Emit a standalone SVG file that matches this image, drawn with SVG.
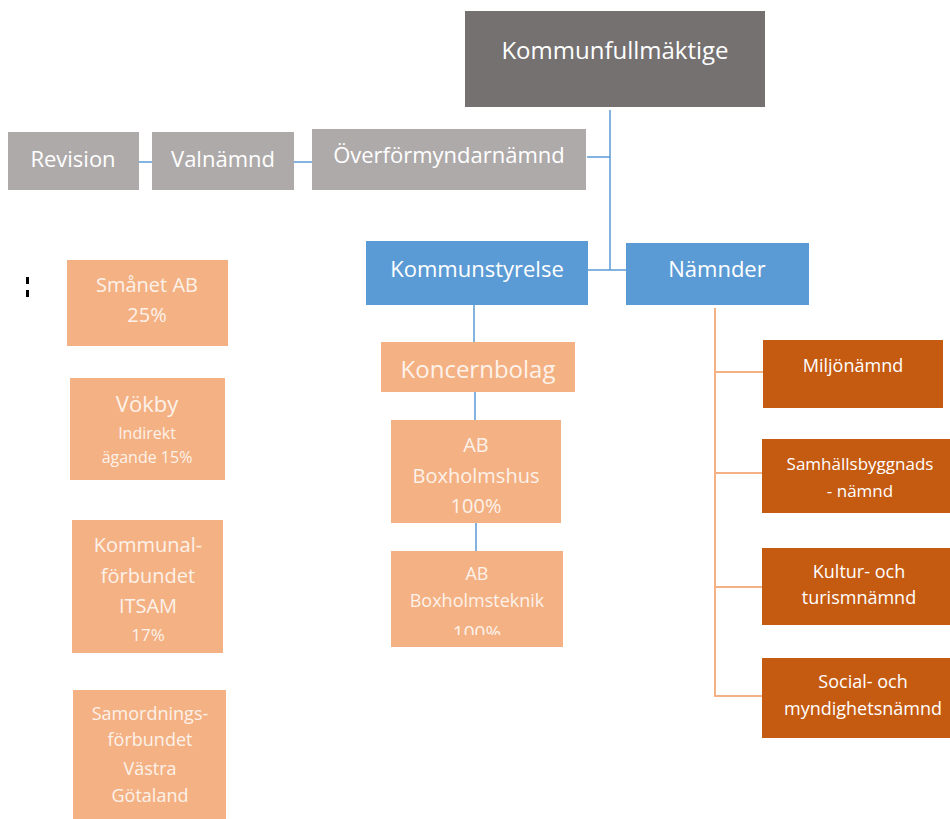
<svg xmlns="http://www.w3.org/2000/svg" width="950" height="819" viewBox="0 0 950 819">
<style>
text{font-family:"Open Sans","Liberation Sans",sans-serif;fill:#ffffff;text-anchor:middle}
.dg{fill:#757171}
.lg{fill:#aeaaaa}
.bl{fill:#5b9bd5}
.po{fill:#f4b183}
.do{fill:#c55a11}
.cb{stroke:#5b9bd5;stroke-width:1.5;fill:none}
.co{stroke:#f4b183;stroke-width:2;fill:none}
.ot{fill:#fdf2ea}
</style>
<defs>
<clipPath id="clipTek"><rect x="391" y="551" width="172" height="84"/></clipPath>
</defs>
<rect width="950" height="819" fill="#ffffff"/>
<g id="connectors">
<path class="cb" d="M610 110V270M587 157H610M588 270H626M139 162H152M294 162H312M474 305V342M475 392V420M476 523V551"/>
<path class="co" d="M715 308V697M715 372H763M715 473H762M715 587H762M715 696H762"/>
</g>
<g id="kommunfullmaktige"><rect class="dg" x="465" y="11" width="300" height="96"/><text x="615" y="59" font-size="24">Kommunfullmäktige</text></g>
<g id="revision"><rect class="lg" x="8" y="132" width="131" height="58"/><text x="73" y="167" font-size="22">Revision</text></g>
<g id="valnamnd"><rect class="lg" x="152" y="132" width="142" height="58"/><text x="223" y="167" font-size="22">Valnämnd</text></g>
<g id="overformyndarnamnd"><rect class="lg" x="312" y="129" width="274" height="61"/><text x="449" y="163" font-size="22">Överförmyndarnämnd</text></g>
<g id="kommunstyrelse"><rect class="bl" x="366" y="241" width="222" height="64"/><text x="477" y="277" font-size="22">Kommunstyrelse</text></g>
<g id="namnder"><rect class="bl" x="626" y="243" width="183" height="62"/><text x="717" y="277" font-size="22">Nämnder</text></g>
<g id="mark"><rect x="26" y="277" width="3" height="7" fill="#000"/><rect x="26" y="290" width="3" height="7" fill="#000"/></g>
<g id="smanet"><rect class="po" x="67" y="260" width="161" height="86"/><text class="ot" x="147" y="292" font-size="20">Smånet AB</text><text class="ot" x="147" y="322" font-size="20">25%</text></g>
<g id="vokby"><rect class="po" x="70" y="378" width="155" height="102"/><text class="ot" x="147" y="412" font-size="22">Vökby</text><text class="ot" x="147" y="439" font-size="16">Indirekt</text><text class="ot" x="147" y="463" font-size="16">ägande 15%</text></g>
<g id="itsam"><rect class="po" x="72" y="520" width="151" height="133"/><text class="ot" x="148" y="552" font-size="20">Kommunal-</text><text class="ot" x="148" y="583" font-size="20">förbundet</text><text class="ot" x="148" y="613" font-size="20">ITSAM</text><text class="ot" x="148" y="641" font-size="17">17%</text></g>
<g id="samordning"><rect class="po" x="73" y="690" width="153" height="129"/><text class="ot" x="150" y="720" font-size="18">Samordnings-</text><text class="ot" x="150" y="746" font-size="18">förbundet</text><text class="ot" x="150" y="775" font-size="18">Västra</text><text class="ot" x="150" y="802" font-size="18">Götaland</text></g>
<g id="koncernbolag"><rect class="po" x="381" y="342" width="194" height="50"/><text class="ot" x="478" y="378" font-size="24">Koncernbolag</text></g>
<g id="boxholmshus"><rect class="po" x="391" y="420" width="170" height="103"/><text class="ot" x="476" y="452" font-size="20">AB</text><text class="ot" x="476" y="483" font-size="20">Boxholmshus</text><text class="ot" x="476" y="513" font-size="20">100%</text></g>
<g id="boxholmsteknik"><rect class="po" x="391" y="551" width="172" height="96"/><text class="ot" x="477" y="580" font-size="18">AB</text><text class="ot" x="477" y="607" font-size="18">Boxholmsteknik</text><text class="ot" x="477" y="639" font-size="19" clip-path="url(#clipTek)">100%</text></g>
<g id="miljonamnd"><rect class="do" x="763" y="340" width="180" height="68"/><text x="853" y="372" font-size="18">Miljönämnd</text></g>
<g id="samhallsbyggnad"><rect class="do" x="762" y="439" width="188" height="74"/><text x="860" y="470" font-size="17">Samhällsbyggnads</text><text x="860" y="497" font-size="17">- nämnd</text></g>
<g id="kultur"><rect class="do" x="762" y="548" width="188" height="77"/><text x="859" y="578" font-size="18">Kultur- och</text><text x="859" y="604" font-size="18">turismnämnd</text></g>
<g id="social"><rect class="do" x="762" y="658" width="188" height="80"/><text x="863" y="688" font-size="18">Social- och</text><text x="863" y="715" font-size="18">myndighetsnämnd</text></g>
</svg>
